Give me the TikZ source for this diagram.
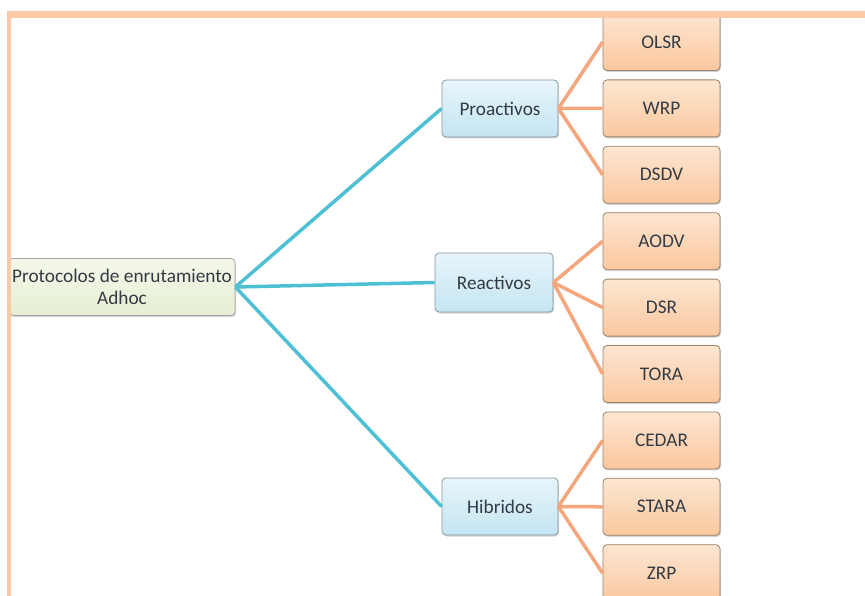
\documentclass[tikz,border=0pt]{standalone}
\usepackage{fontspec}
\setmainfont{Carlito}
\usepackage{tikz}
\usetikzlibrary{positioning,shadows}

\definecolor{frameor}{HTML}{FBC9A5}
\definecolor{lnblue}{HTML}{4EC0D4}
\definecolor{lnor}{HTML}{F4A67C}
\definecolor{txt}{HTML}{333B44}
\definecolor{bltop}{HTML}{E8F5FB}
\definecolor{blbot}{HTML}{C3E5F2}
\definecolor{ortop}{HTML}{FDE6D2}
\definecolor{orbot}{HTML}{FAC79E}
\definecolor{grtop}{HTML}{F4F8EA}
\definecolor{grbot}{HTML}{E6EED2}

\begin{document}
\begin{tikzpicture}[x=1pt, y=-1pt,
  bx/.style={draw=gray!70, rounded corners=4pt, align=center, inner sep=0pt,
             minimum height=57pt, text=txt, line width=0.8pt,
             font=\fontsize{19.3}{21.5}\selectfont,
             drop shadow={shadow xshift=1pt, shadow yshift=-1.5pt, opacity=0.35}},
  rootbx/.style={bx, minimum width=226pt, top color=grtop, bottom color=grbot},
  catbx/.style={bx, minimum width=116pt, draw=cyan!15!gray,
             top color=bltop, bottom color=blbot},
  leafbx/.style={bx, minimum width=117pt, draw=brown!40!gray,
             top color=ortop, bottom color=orbot},
  ln/.style={line width=3.5pt, lnblue},
  lo/.style={line width=3.5pt, lnor}]
\useasboundingbox (0,0) rectangle (865,596);
% main node and categories
\node[rootbx] (root) at (122,287) {Protocolos de enrutamiento\\Adhoc};
\node[catbx] (pro) at (500,108.5) {Proactivos};
\node[catbx, minimum width=118pt, minimum height=59pt] (rea) at (494,282.5) {Reactivos};
\node[catbx] (hib) at (500,506.5) {Hibridos};
% protocols
\node[leafbx] (olsr) at (661.5,42) {OLSR};
\node[leafbx, below=8.6pt of olsr] (wrp) {WRP};
\node[leafbx, below=8.6pt of wrp] (dsdv) {DSDV};
\node[leafbx, below=8.6pt of dsdv] (aodv) {AODV};
\node[leafbx, below=8.6pt of aodv] (dsr) {DSR};
\node[leafbx, below=8.6pt of dsr] (tora) {TORA};
\node[leafbx, below=8.6pt of tora] (cedar) {CEDAR};
\node[leafbx, below=8.6pt of cedar] (stara) {STARA};
\node[leafbx, below=8.6pt of stara] (zrp) {ZRP};
% connectors
\foreach \c in {pro,rea,hib} \draw[ln] (root.east) -- (\c.west);
\foreach \c in {olsr,wrp,dsdv} \draw[lo] (pro.east) -- (\c.west);
\foreach \c in {aodv,dsr,tora} \draw[lo] (rea.east) -- (\c.west);
\foreach \c in {cedar,stara,zrp} \draw[lo] (hib.east) -- (\c.west);
% frame
\fill[frameor] (7,11) rectangle (865,18.3);
\fill[frameor] (7,11) rectangle (11,596);
\end{tikzpicture}
\end{document}
